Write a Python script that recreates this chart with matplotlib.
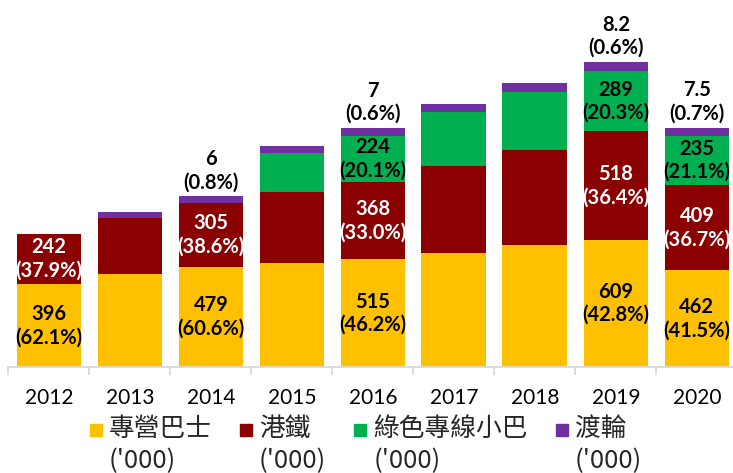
import matplotlib
matplotlib.use('Agg')
import matplotlib.pyplot as plt
from matplotlib.patches import Rectangle

# data ('000 passengers per day)
years = ['2012', '2013', '2014', '2015', '2016', '2017', '2018', '2019', '2020']
bus = [396, 443, 479, 498, 515, 547, 583, 609, 462]
mtr = [242, 268, 305, 340, 368, 416, 456, 518, 409]
gmb = [0, 0, 0, 187, 224, 257, 278, 289, 235]
ferry = [0, 5.5, 6, 6, 7, 7, 7.9, 8.2, 7.5]
labelled = ['2012', '2014', '2016', '2019', '2020']

names = ['專營巴士', '港鐵', '綠色專線小巴', '渡輪']
unit = "('000)"
colors = ['#FFC000', '#8B0000', '#00B050', '#7030A0']
txt_colors = ['black', 'white', 'black', 'black']

FERRY_SCALE = 5.3   # ferry segment drawn taller so it is visible
W, H = 733, 473
PX = 0.209          # pixels per unit on y

fig = plt.figure(figsize=(W / 100, H / 100), dpi=100)
base = 367
ax = fig.add_axes([8.4 / W, (H - base) / H, 729 / W, base / H])
ax.set_xlim(-0.5, 8.5)
ax.set_ylim(0, base / PX)

x = range(len(years))
series = [bus, mtr, gmb, [v * FERRY_SCALE for v in ferry]]
bottom = [0] * len(years)
bars = []
for vals, c in zip(series, colors):
    b = ax.bar(x, vals, 0.8, bottom=bottom, color=c, linewidth=0)
    bars.append(b)
    bottom = [a + v for a, v in zip(bottom, vals)]

lab_font = dict(family='Lato', fontsize=14.5, fontweight='bold', linespacing=1.2)
raw = [bus, mtr, gmb, ferry]
for i, yr in enumerate(years):
    if yr not in labelled:
        continue
    total = sum(s[i] for s in raw)
    for k in range(3):
        v = raw[k][i]
        if v == 0:
            continue
        r = bars[k][i]
        ax.text(r.get_x() + r.get_width() / 2, r.get_y() + r.get_height() / 2,
                f'{v:g}\n({v / total * 100:.1f}%)', ha='center', va='center',
                color=txt_colors[k], **lab_font)
    v = ferry[i]
    if v:
        r = bars[3][i]
        ax.annotate(f'{v:g}\n({v / total * 100:.1f}%)',
                    (r.get_x() + r.get_width() / 2, r.get_y() + r.get_height()),
                    xytext=(0, 3), textcoords='offset points',
                    ha='center', va='bottom', color='black', **lab_font)

for s in ['top', 'left', 'right']:
    ax.spines[s].set_visible(False)
ax.spines['bottom'].set_color('#D9D9D9')
ax.spines['bottom'].set_linewidth(1.3)
ax.set_yticks([])
ax.set_xticks(list(x))
ax.set_xticklabels(years, family='Lato', fontsize=15)
ax.tick_params(axis='x', which='major', length=0, pad=15)
ax.set_xticks([i - 0.5 for i in range(len(years) + 1)], minor=True)
ax.tick_params(axis='x', which='minor', length=6, width=1.3, color='#D9D9D9')

# legend drawn by hand so the square sits next to the first line
cjk = ['Noto Sans CJK TC', 'DejaVu Sans']
renderer = fig.canvas.get_renderer()
lx = 90
sq = 12
for name, c in zip(names, colors):
    fig.patches.append(Rectangle((lx / W, 1 - (430 + sq / 2) / H), sq / W, sq / H,
                                 transform=fig.transFigure, color=c))
    t1 = fig.text((lx + sq + 7) / W, 1 - 429 / H, name, family=cjk, fontsize=18.5,
                  ha='left', va='center', color='#262626')
    t2 = fig.text((lx + sq + 7) / W, 1 - 461 / H, unit, family=cjk, fontsize=18.5,
                  ha='left', va='center', color='#262626')
    right = max(t1.get_window_extent(renderer).x1, t2.get_window_extent(renderer).x1)
    lx = right + 28

fig.savefig('out.png', dpi=100)
